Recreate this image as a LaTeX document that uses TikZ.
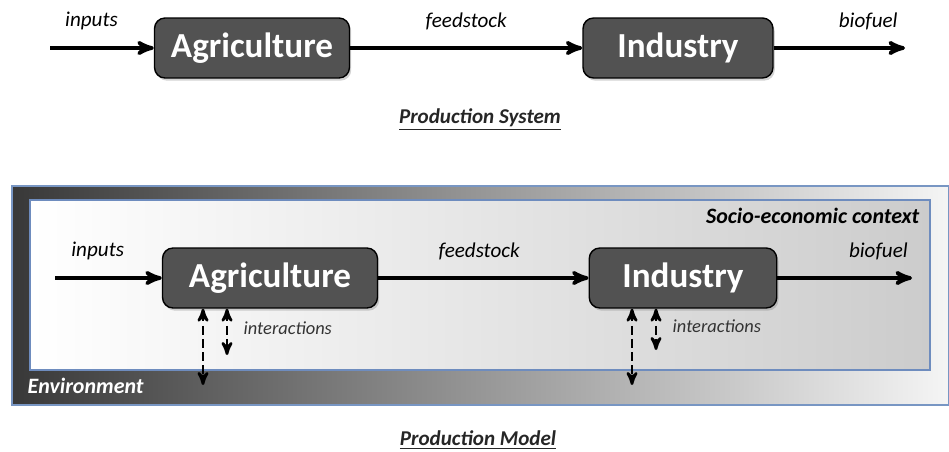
\documentclass[tikz,border=0pt]{standalone}
\usepackage{fontspec}
\setmainfont{Carlito}
\usetikzlibrary{arrows,shadows,positioning}

\begin{document}
\begin{tikzpicture}[x=0.02cm,y=-0.02cm,>=stealth',line width=2.1pt,
    block/.style={draw=black,line width=0.8pt,fill=black!68,rounded corners=6pt,
      minimum width=3.9cm,minimum height=1.2cm,text=white,
      font=\fontsize{20}{24}\selectfont\bfseries,
      drop shadow={opacity=0.35,shadow xshift=1pt,shadow yshift=-1.5pt}},
    lbl/.style={font=\fontsize{12}{14}\selectfont\itshape},
    title/.style={font=\fontsize{12}{14}\selectfont\bfseries\itshape,text=black!85},
    small/.style={font=\fontsize{10.5}{12}\selectfont\itshape,text=black!80},
    inter/.style={<->,line width=1.5pt,dash pattern=on 5pt off 2.5pt}]
  \useasboundingbox (0,0) rectangle (949,452);

  % production system
  \node[block] (agri1) at (252,48) {Agriculture};
  \node[block,minimum width=3.8cm] (ind1) at (678,48) {Industry};
  \coordinate (in1) at (50,48);
  \coordinate (out1) at (905,48);
  \path[->]
    (in1) edge node [lbl,above,pos=0.4,yshift=6pt] {inputs} (agri1)
    (agri1) edge node [lbl,above,yshift=6pt] {feedstock} (ind1)
    (ind1) edge node [lbl,above,pos=0.72,yshift=6pt] {biofuel} (out1);
  \node[title] (title1) at (480,120) {\underline{Production System}};

  % production model
  \shade[left color=black!78,right color=black!4] (12,186) rectangle (949,405);
  \draw[line width=0.6pt,color={rgb,255:red,120;green,150;blue,195}] (12,186) rectangle (949,405);
  \shade[left color=white,right color=black!20] (30,200) rectangle (930,370);
  \draw[line width=0.8pt,color={rgb,255:red,110;green,140;blue,190}] (30,200) rectangle (930,370);
  \node[font=\fontsize{12.5}{14}\selectfont\bfseries\itshape,anchor=east] (soc) at (927,216) {Socio-economic context};
  \node[font=\fontsize{12.5}{14}\selectfont\bfseries\itshape,text=white,anchor=west] (env) at (20,386) {Environment};

  \node[block,minimum width=4.3cm] (agri2) at (270,278) {Agriculture};
  \node[block,minimum width=3.75cm] (ind2) at (683,278) {Industry};
  \coordinate (in2) at (55,278);
  \coordinate (out2) at (912,278);
  \path[->]
    (in2) edge node [lbl,above,pos=0.4,yshift=6pt] {inputs} (agri2)
    (agri2) edge node [lbl,above,pos=0.48,yshift=6pt] {feedstock} (ind2)
    (ind2) edge node [lbl,above,pos=0.75,yshift=6pt] {biofuel} (out2);

  \coordinate (envA) at (203,385);
  \coordinate (socA) at (227,355);
  \coordinate (envI) at (632,385);
  \coordinate (socI) at (656,350);
  \draw[inter] (envA |- agri2.south) -- (envA);
  \draw[inter] (socA |- agri2.south) -- (socA);
  \draw[inter] (envI |- ind2.south) -- (envI);
  \draw[inter] (socI |- ind2.south) -- (socI);
  \node[small,anchor=west] (intA) at (236,328) {interactions};
  \node[small,anchor=west] (intI) at (665,326) {interactions};

  \node[title] (title2) at (478,440) {\underline{Production Model}};
\end{tikzpicture}
\end{document}
